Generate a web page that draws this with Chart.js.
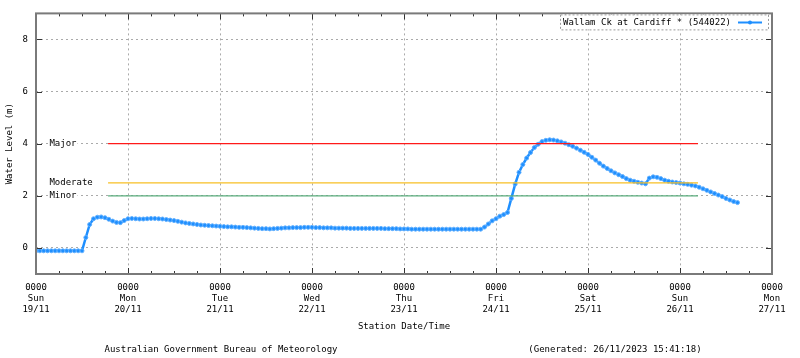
<!DOCTYPE html>
<html>
<head>
<meta charset="utf-8">
<title>Wallam Ck at Cardiff</title>
<script src="https://cdn.jsdelivr.net/npm/chart.js@4.4.0/dist/chart.umd.min.js"></script>
<style>
  html, body { margin: 0; padding: 0; background: #fff; }
</style>
</head>
<body>
<canvas id="graphCanvas" width="800" height="358"></canvas>
<script>
// hourly readings, starting 0000 Sun 19/11
const startHour = 0;
const levels = [
  -0.11, -0.11, -0.11, -0.11, -0.11, -0.11, -0.11, -0.11, -0.11, -0.11,
  -0.11, -0.11, -0.11, 0.40, 0.90, 1.12, 1.18, 1.19, 1.16, 1.10,
  1.03, 0.98, 0.97, 1.05, 1.12, 1.13, 1.12, 1.11, 1.11, 1.12,
  1.13, 1.13, 1.12, 1.11, 1.09, 1.07, 1.05, 1.02, 0.99, 0.96,
  0.94, 0.92, 0.90, 0.88, 0.87, 0.86, 0.85, 0.84, 0.83, 0.82,
  0.81, 0.81, 0.80, 0.79, 0.79, 0.78, 0.77, 0.76, 0.75, 0.74,
  0.74, 0.73, 0.74, 0.75, 0.76, 0.77, 0.77, 0.78, 0.78, 0.78,
  0.79, 0.79, 0.79, 0.78, 0.78, 0.77, 0.77, 0.77, 0.76, 0.76,
  0.76, 0.76, 0.75, 0.75, 0.75, 0.75, 0.75, 0.75, 0.75, 0.75,
  0.75, 0.74, 0.74, 0.74, 0.74, 0.73, 0.73, 0.73, 0.72, 0.72,
  0.72, 0.72, 0.72, 0.72, 0.72, 0.72, 0.72, 0.72, 0.72, 0.72,
  0.72, 0.72, 0.72, 0.72, 0.72, 0.72, 0.72, 0.80, 0.92, 1.04,
  1.12, 1.22, 1.28, 1.36, 1.90, 2.45, 2.90, 3.20, 3.45, 3.66,
  3.85, 3.98, 4.08, 4.13, 4.15, 4.14, 4.11, 4.07, 4.02, 3.96,
  3.90, 3.83, 3.75, 3.67, 3.59, 3.48, 3.37, 3.25, 3.14, 3.05,
  2.96, 2.88, 2.81, 2.74, 2.66, 2.60, 2.56, 2.52, 2.49, 2.46,
  2.68, 2.73, 2.71, 2.66, 2.60, 2.56, 2.53, 2.51, 2.49, 2.46,
  2.44, 2.41, 2.38, 2.33, 2.27, 2.21, 2.15, 2.09, 2.03, 1.97,
  1.90, 1.84, 1.78, 1.74
];
const hours = levels.map((v, i) => startHour + i);

const dayTicks = [0, 24, 48, 72, 96, 120, 144, 168, 192];
const dayNames = ['Sun', 'Mon', 'Tue', 'Wed', 'Thu', 'Fri', 'Sat', 'Sun', 'Mon'];
const dayDates = ['19/11', '20/11', '21/11', '22/11', '23/11', '24/11', '25/11', '26/11', '27/11'];
const yTicks = [0, 2, 4, 6, 8];

const thresholdNames = ['Major', 'Moderate', 'Minor'];
const thresholdLevels = [4, 2.5, 2];
const thresholdFrom = 18.8;
const thresholdTo = 172.7;

const seriesName = 'Wallam Ck at Cardiff * (544022)';
const sourceText = 'Australian Government Bureau of Meteorology';
const generatedText = '(Generated: 26/11/2023 15:41:18)';

const thresholdColors = ['#ff1a1a', '#f7bf24', '#5aad7d'];
const lineColor = '#1e8fff';
const fontFamily = '"DejaVu Sans Mono", monospace';

let datasets = [];
for (let i in thresholdNames) {
  datasets.push({
    label: thresholdNames[i],
    data: [{x: thresholdFrom, y: thresholdLevels[i]}, {x: thresholdTo, y: thresholdLevels[i]}],
    borderColor: thresholdColors[i],
    borderWidth: 1.2,
    pointRadius: 0,
    fill: false
  });
}
datasets.push({
  label: seriesName,
  data: hours.map((h, i) => ({x: h, y: levels[i]})),
  borderColor: lineColor,
  backgroundColor: lineColor,
  borderWidth: 2.5,
  pointRadius: 2,
  pointBorderWidth: 1,
  pointBorderColor: '#62b0ff',
  pointBackgroundColor: lineColor,
  fill: false
});

// gnuplot-like frame, inner ticks, threshold labels, legend and footer
const extras = {
  id: 'extras',
  afterDraw(chart) {
    const ctx = chart.ctx;
    const a = chart.chartArea;
    const xs = chart.scales.x;
    const ys = chart.scales.y;
    ctx.save();

    // inner tick marks
    ctx.strokeStyle = '#333';
    ctx.lineWidth = 1;
    ctx.beginPath();
    for (let h = 0; h <= 192; h += 6) {
      const px = Math.round(xs.getPixelForValue(h)) + 0.5;
      const len = h % 24 === 0 ? 6 : 3;
      ctx.moveTo(px, a.bottom); ctx.lineTo(px, a.bottom - len);
      ctx.moveTo(px, a.top); ctx.lineTo(px, a.top + len);
    }
    for (let v of yTicks) {
      const py = Math.round(ys.getPixelForValue(v)) + 0.5;
      ctx.moveTo(a.left, py); ctx.lineTo(a.left + 6, py);
      ctx.moveTo(a.right, py); ctx.lineTo(a.right - 6, py);
    }
    ctx.stroke();

    // frame
    ctx.strokeStyle = '#7a7a7a';
    ctx.lineWidth = 2;
    ctx.strokeRect(a.left, a.top, a.right - a.left, a.bottom - a.top);

    // threshold labels
    ctx.font = '9px ' + fontFamily;
    ctx.textAlign = 'left';
    ctx.textBaseline = 'middle';
    for (let i in thresholdNames) {
      const tw = ctx.measureText(thresholdNames[i]).width;
      const lx = xs.getPixelForValue(3.5);
      const ly = ys.getPixelForValue(thresholdLevels[i]);
      ctx.fillStyle = '#fff';
      ctx.fillRect(lx - 1, ly - 5, tw + 2, 10);
      ctx.fillStyle = '#000';
      ctx.fillText(thresholdNames[i], lx, ly);
    }

    // legend, sample on the right of the text
    const lw = ctx.measureText(seriesName).width;
    const boxR = a.right - 4;
    const sx = boxR - 30;
    const textL = sx - 7 - lw;
    const boxL = textL - 3;
    const boxT = a.top + 1;
    const boxB = boxT + 15;
    ctx.fillStyle = '#fff';
    ctx.fillRect(boxL, boxT, boxR - boxL, boxB - boxT);
    ctx.setLineDash([2, 2]);
    ctx.strokeStyle = '#999';
    ctx.lineWidth = 1;
    ctx.strokeRect(boxL + 0.5, boxT + 0.5, boxR - boxL, boxB - boxT);
    ctx.setLineDash([]);
    ctx.fillStyle = '#000';
    ctx.fillText(seriesName, textL, (boxT + boxB) / 2 + 1);
    const sy = Math.round((boxT + boxB) / 2) + 0.5;
    ctx.strokeStyle = lineColor;
    ctx.lineWidth = 2;
    ctx.beginPath(); ctx.moveTo(sx, sy); ctx.lineTo(sx + 24, sy); ctx.stroke();
    ctx.fillStyle = lineColor;
    ctx.beginPath(); ctx.arc(sx + 12, sy, 2, 0, Math.PI * 2); ctx.fill();

    // footer
    ctx.fillStyle = '#000';
    ctx.textAlign = 'center';
    ctx.fillText(sourceText, 221, 350);
    ctx.fillText(generatedText, 615, 350);
    ctx.restore();
  }
};

let graphTarget = document.getElementById('graphCanvas');
let lineGraph = new Chart(graphTarget, {
  type: 'line',
  data: { datasets: datasets },
  plugins: [extras],
  options: {
    responsive: false,
    animation: false,
    layout: { padding: { top: 9, right: 28, bottom: 26, left: 0 } },
    plugins: {
      legend: { display: false },
      tooltip: { enabled: false }
    },
    scales: {
      x: {
        type: 'linear',
        min: 0,
        max: 192,
        afterBuildTicks: (scale) => {
          let t = [];
          for (let h = 0; h <= 192; h += 6) t.push({value: h});
          scale.ticks = t;
        },
        afterFit: (scale) => { scale.height = 58; },
        border: { display: false, dash: [2, 3] },
        grid: {
          drawTicks: false,
          lineWidth: 1,
          color: (c) => (c.tick && c.tick.value % 24 === 0) ? '#aaaaaa' : 'rgba(0,0,0,0)'
        },
        ticks: {
          autoSkip: false,
          maxRotation: 0,
          padding: 8,
          color: '#000',
          font: { family: fontFamily, size: 9, lineHeight: 1.25 },
          callback: (value) => {
            if (value % 24 !== 0) return '';
            const d = value / 24;
            return ['0000', dayNames[d], dayDates[d]];
          }
        },
        title: {
          display: true,
          text: 'Station Date/Time',
          color: '#000',
          padding: { top: 0, bottom: 0 },
          font: { family: fontFamily, size: 9 }
        }
      },
      y: {
        type: 'linear',
        min: -1,
        max: 9,
        afterBuildTicks: (scale) => { scale.ticks = yTicks.map(v => ({value: v})); },
        afterFit: (scale) => { scale.width = 36; },
        border: { display: false, dash: [2, 3] },
        grid: {
          drawTicks: false,
          color: '#aaaaaa',
          lineWidth: 1
        },
        ticks: {
          padding: 8,
          color: '#000',
          font: { family: fontFamily, size: 9 }
        },
        title: {
          display: true,
          text: 'Water Level (m)',
          color: '#000',
          padding: { top: 4, bottom: 0 },
          font: { family: fontFamily, size: 9 }
        }
      }
    }
  }
});
</script>
</body>
</html>
